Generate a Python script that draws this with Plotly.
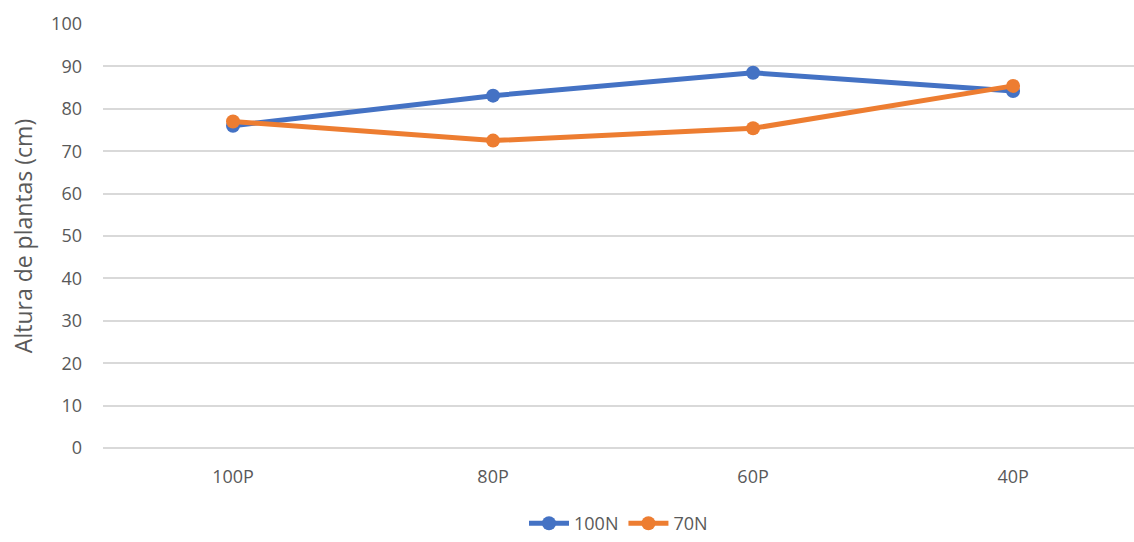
import plotly.graph_objects as go

# Plant height by phosphorus level, for two nitrogen levels
categories = ["100P", "80P", "60P", "40P"]
n100 = [76.0, 83.1, 88.5, 84.2]
n70 = [77.0, 72.5, 75.4, 85.4]
y_ticks = list(range(0, 101, 10))

font_family = "Open Sans, Noto Sans, Liberation Sans, sans-serif"
text_color = "#595959"
grid_color = "#d9d9d9"

fig = go.Figure()
fig.add_trace(go.Scatter(
    x=categories, y=n100, name="100N", mode="lines+markers",
    line=dict(color="#4472C4", width=5),
    marker=dict(color="#4472C4", size=14),
))
fig.add_trace(go.Scatter(
    x=categories, y=n70, name="70N", mode="lines+markers",
    line=dict(color="#ED7D31", width=5),
    marker=dict(color="#ED7D31", size=14),
))

fig.update_layout(
    width=1134, height=542,
    margin=dict(l=103, r=0, t=24, b=94, autoexpand=False),
    plot_bgcolor="white", paper_bgcolor="white",
    font=dict(family=font_family, color=text_color, size=18),
    showlegend=True,
    legend=dict(
        orientation="h", x=0.5, xref="paper", xanchor="center",
        y=0.0, yref="container", yanchor="bottom", itemwidth=40,
        font=dict(size=18, color=text_color),
        traceorder="normal",
    ),
    xaxis=dict(
        type="category", range=[-0.5, 3.465],
        showgrid=False, showline=False, zeroline=False,
        ticks="", ticklabelstandoff=16,
        tickfont=dict(size=18, color=text_color),
    ),
    yaxis=dict(
        range=[0, 100], tickvals=y_ticks,
        showgrid=True, gridcolor=grid_color, gridwidth=1.5,
        zeroline=True, zerolinecolor=grid_color, zerolinewidth=1.5,
        showline=False, ticks="", ticklabelstandoff=20,
        tickfont=dict(size=18, color=text_color),
        title=dict(text="Altura de plantas (cm)", standoff=12,
                   font=dict(size=23, color=text_color)),
    ),
)

fig.write_html("out.html")
